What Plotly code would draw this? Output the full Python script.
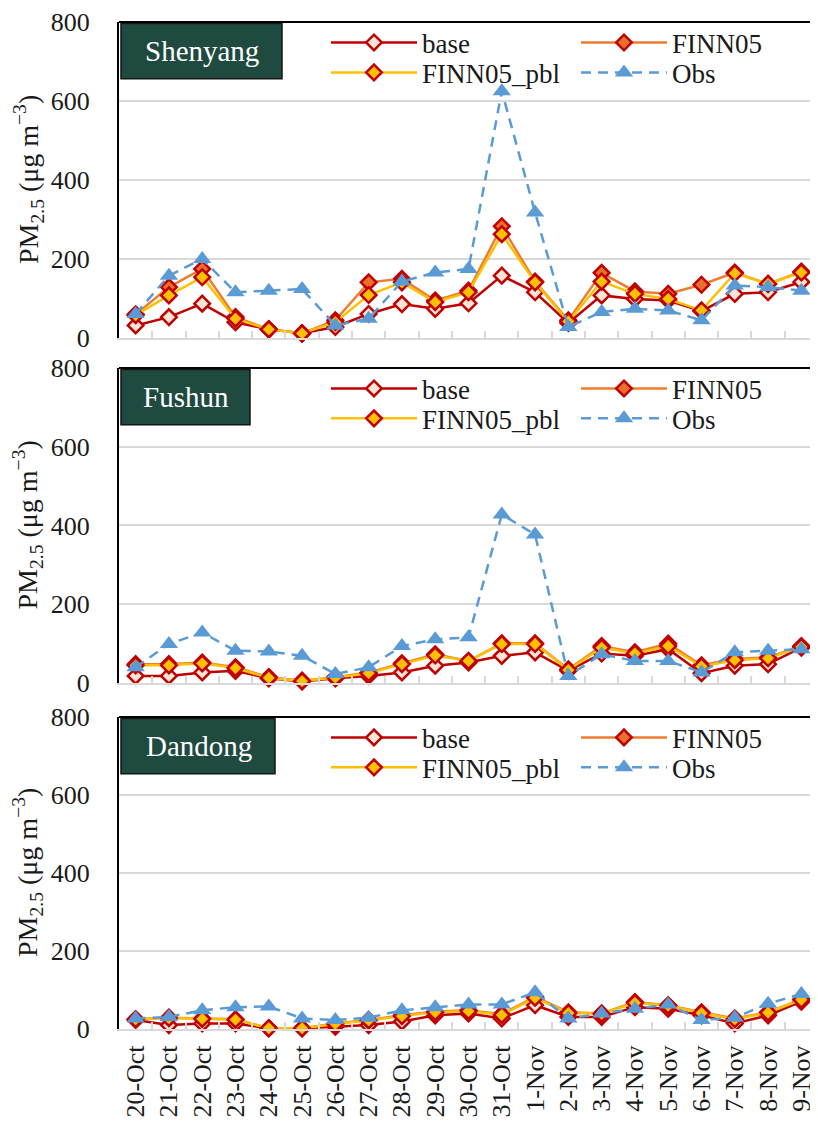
import plotly.graph_objects as go

# ---------------- data ----------------
dates = ["20-Oct", "21-Oct", "22-Oct", "23-Oct", "24-Oct", "25-Oct", "26-Oct",
         "27-Oct", "28-Oct", "29-Oct", "30-Oct", "31-Oct", "1-Nov", "2-Nov",
         "3-Nov", "4-Nov", "5-Nov", "6-Nov", "7-Nov", "8-Nov", "9-Nov"]
series_names = ["base", "FINN05", "FINN05_pbl", "Obs"]
cities = ["Shenyang", "Fushun", "Dandong"]

shenyang_base = [32, 53, 87, 40, 22, 12, 28, 61, 86, 74, 88, 158, 116, 38, 108, 99, 95, 68, 112, 116, 142]
shenyang_finn05 = [60, 129, 175, 53, 22, 12, 45, 141, 150, 95, 120, 283, 143, 45, 165, 118, 112, 135, 166, 137, 168]
shenyang_pbl = [58, 108, 154, 49, 22, 12, 40, 109, 141, 91, 116, 263, 141, 42, 143, 112, 99, 70, 164, 137, 166]
shenyang_obs = [61, 158, 200, 116, 120, 124, 32, 49, 143, 166, 175, 625, 318, 28, 66, 74, 70, 45, 133, 129, 120]

fushun_base = [18, 18, 27, 31, 12, 4, 12, 18, 27, 44, 52, 69, 78, 31, 75, 69, 86, 25, 44, 48, 90]
fushun_finn05 = [48, 48, 52, 40, 15, 6, 15, 27, 50, 73, 56, 101, 101, 35, 94, 78, 100, 45, 61, 65, 94]
fushun_pbl = [45, 45, 50, 38, 13, 5, 14, 25, 48, 70, 56, 99, 99, 33, 90, 75, 94, 42, 58, 63, 92]
fushun_obs = [40, 99, 128, 82, 80, 69, 23, 40, 94, 111, 116, 428, 377, 18, 73, 56, 56, 27, 78, 82, 86]

dandong_base = [23, 10, 14, 14, 2, 2, 6, 10, 19, 35, 40, 27, 61, 31, 31, 56, 52, 35, 14, 35, 70]
dandong_finn05 = [25, 29, 27, 25, 2, 2, 14, 23, 35, 45, 48, 38, 82, 43, 40, 69, 61, 43, 27, 43, 76]
dandong_pbl = [25, 28, 26, 24, 2, 2, 13, 22, 33, 43, 46, 36, 80, 41, 39, 67, 60, 41, 25, 42, 75]
dandong_obs = [27, 31, 48, 56, 58, 27, 23, 29, 48, 56, 63, 63, 94, 27, 40, 52, 63, 23, 29, 65, 90]

y_ticks = [0, 200, 400, 600, 800]

# ---------------- layout geometry ----------------
# The page body adds an 8 px offset, so the figure is sized to fill the rest
# of the 818x1126 window; helpers take window pixel coordinates.
FONT = "Liberation Serif, Times New Roman, serif"
OFF = 8
WIN_W, WIN_H = 818, 1126
W, H = WIN_W - OFF, WIN_H - OFF
PLOT_L, PLOT_R, PLOT_T, PLOT_B = 119, 818, 19, 1029   # window px
L = PLOT_L - OFF
R = WIN_W - PLOT_R
T = PLOT_T - OFF
B = WIN_H - PLOT_B
PW, PH = W - L - R, H - T - B


def fx(px):
    return (px - PLOT_L) / PW


def fy(py):
    return (PLOT_B - py) / PH


panel_tops = [19, 366, 716]
panel_bots = [336, 682, 1029]
box_rights = [278, 246, 271]

city_data = [
    [shenyang_base, shenyang_finn05, shenyang_pbl, shenyang_obs],
    [fushun_base, fushun_finn05, fushun_pbl, fushun_obs],
    [dandong_base, dandong_finn05, dandong_pbl, dandong_obs],
]

styles = {
    "base": dict(line=dict(color="#c00000", width=2.5),
                 marker=dict(symbol="diamond", size=12, color="#fbe5d6",
                             line=dict(color="#c00000", width=2.5))),
    "FINN05": dict(line=dict(color="#ed7d31", width=2.5),
                   marker=dict(symbol="diamond", size=12, color="#e9702c",
                               line=dict(color="#c00000", width=2.5))),
    "FINN05_pbl": dict(line=dict(color="#ffc000", width=2.5),
                       marker=dict(symbol="diamond", size=12, color="#ffc000",
                                   line=dict(color="#c00000", width=2.5))),
    "Obs": dict(line=dict(color="#5b9bd5", width=2.5, dash="10px,7px"),
                marker=dict(symbol="triangle-up", size=16, color="#5b9bd5",
                            line=dict(width=0))),
}
# legend entry widths: left column wide (sets column spacing), right column narrow
legend_widths = {"base": 149, "FINN05": 95, "FINN05_pbl": 149, "Obs": 95}

fig = go.Figure()
layout = dict(
    width=W, height=H,
    margin=dict(l=L, r=R, t=T, b=B, pad=0),
    paper_bgcolor="white", plot_bgcolor="white",
    font=dict(family=FONT, color="#1a1a1a"),
    shapes=[], annotations=[],
)

for i, city in enumerate(cities):
    n = i + 1
    xa = "x" if n == 1 else f"x{n}"
    ya = "y" if n == 1 else f"y{n}"
    leg_row1 = "legend" if n == 1 else f"legend{2 * n - 1}"
    leg_row2 = f"legend{2 * n}"
    for j, sname in enumerate(series_names):
        st = styles[sname]
        fig.add_trace(go.Scatter(
            x=dates, y=city_data[i][j], name=sname, mode="lines+markers",
            line=st["line"], marker=st["marker"], xaxis=xa, yaxis=ya,
            legend=leg_row1 if j < 2 else leg_row2, legendwidth=legend_widths[sname],
            cliponaxis=False, hoverinfo="x+y+name",
        ))

    top, bot = panel_tops[i], panel_bots[i]
    xkey = "xaxis" if n == 1 else f"xaxis{n}"
    ykey = "yaxis" if n == 1 else f"yaxis{n}"
    layout[xkey] = dict(
        domain=[0, 1], anchor=ya, type="category",
        categoryorder="array", categoryarray=dates, range=[-0.5, len(dates) - 0.5],
        tickmode="array", tickvals=dates, ticktext=dates,
        showline=True, linecolor="#d9d9d9", linewidth=2,
        ticks="inside", tickson="boundaries", ticklen=7,
        tickcolor="#d9d9d9", tickwidth=1.5, showgrid=False,
        showticklabels=(n == 3), tickangle=-90,
        tickfont=dict(family=FONT, size=26, color="#1a1a1a"),
        ticklabelstandoff=4,
    )
    if n > 1:
        layout[xkey]["matches"] = "x"
    layout[ykey] = dict(
        domain=[fy(bot), fy(top)], anchor=xa, range=[0, 800],
        tickmode="array", tickvals=y_ticks,
        showgrid=True, gridcolor="#d9d9d9", gridwidth=2,
        showline=True, linecolor="black", linewidth=2,
        ticks="", zeroline=False,
        tickfont=dict(family=FONT, size=26, color="#1a1a1a"),
        ticklabelstandoff=22,
    )
    # top border line of the panel
    layout["shapes"].append(dict(
        type="line", xref="paper", yref="paper", x0=0, x1=fx(WIN_W), y0=fy(top), y1=fy(top),
        line=dict(color="black", width=2), layer="above"))
    # city label box
    layout["shapes"].append(dict(
        type="rect", xref="paper", yref="paper",
        x0=fx(121), x1=fx(box_rights[i] + 4), y0=fy(top + 57), y1=fy(top + 1.5),
        fillcolor="#1f4a3f", line=dict(color="#151515", width=1.5), layer="above"))
    layout["annotations"].append(dict(
        text=city, xref="paper", yref="paper",
        x=fx((122 + box_rights[i] + 4) / 2), y=fy(top + 29),
        xanchor="center", yanchor="middle", showarrow=False,
        font=dict(family=FONT, size=29, color="white")))
    # y axis title
    layout["annotations"].append(dict(
        text="PM<sub>2.5</sub> (μg m<sup>−3</sup>)", xref="paper", yref="paper",
        x=fx(28), y=fy((top + bot) / 2), xanchor="center", yanchor="middle",
        textangle=-90, showarrow=False,
        font=dict(family=FONT, size=28, color="#1a1a1a")))
    # legends (two rows per panel)
    for leg, row_y in ((leg_row1, top + 21), (leg_row2, top + 51)):
        layout[leg] = dict(
            orientation="h", x=fx(326), xanchor="left",
            y=fy(row_y), yanchor="middle",
            bgcolor="rgba(0,0,0,0)", borderwidth=0,
            itemwidth=86, entrywidthmode="pixels",
            font=dict(family=FONT, size=27, color="#1a1a1a"),
            traceorder="normal",
        )

fig.update_layout(**layout)
fig.write_html("out.html")
